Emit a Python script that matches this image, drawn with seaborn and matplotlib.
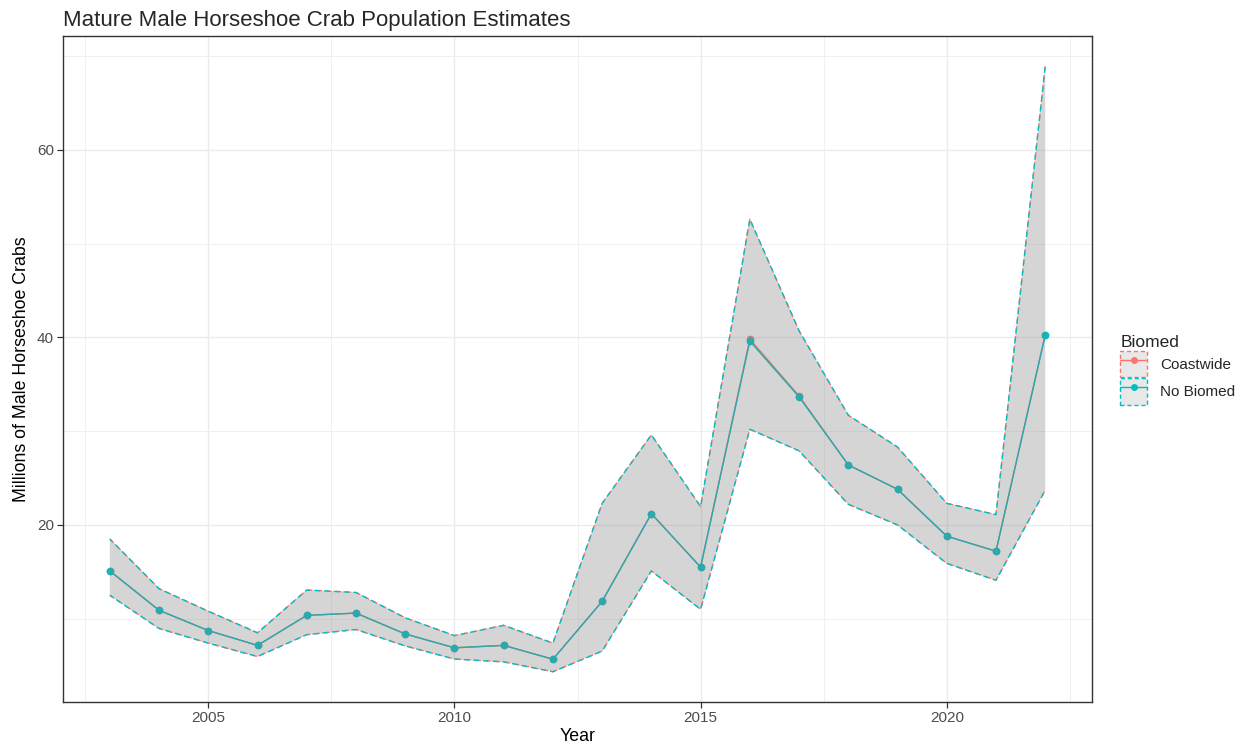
import numpy as np
import pandas as pd
import matplotlib
matplotlib.use("Agg")
import matplotlib.pyplot as plt
from matplotlib.patches import Patch
from matplotlib.lines import Line2D
from matplotlib.ticker import MultipleLocator
import seaborn as sns

years = list(range(2003, 2023))

coastwide_est = [15.1, 10.9, 8.74, 7.16, 10.36, 10.6, 8.38, 6.9, 7.16, 5.68,
                 11.85, 21.2, 15.5, 39.8, 33.75, 26.4, 23.8, 18.8, 17.2, 40.25]
coastwide_lo = [12.5, 8.96, 7.4, 5.97, 8.3, 8.85, 7.1, 5.7, 5.4, 4.35,
                6.55, 15.1, 11.0, 30.2, 27.9, 22.2, 20.0, 15.9, 14.1, 23.7]
coastwide_hi = [18.5, 13.2, 10.8, 8.5, 13.06, 12.8, 10.1, 8.2, 9.3, 7.4,
                22.3, 29.6, 21.96, 52.6, 40.7, 31.7, 28.3, 22.3, 21.1, 68.9]

nobiomed_est = [15.1, 10.9, 8.74, 7.16, 10.36, 10.6, 8.38, 6.9, 7.16, 5.68,
                11.85, 21.2, 15.5, 39.6, 33.65, 26.4, 23.8, 18.8, 17.2, 40.25]
nobiomed_lo = [12.5, 8.96, 7.4, 5.97, 8.3, 8.85, 7.1, 5.7, 5.4, 4.35,
               6.55, 15.1, 11.0, 30.2, 27.9, 22.2, 20.0, 15.9, 14.1, 23.7]
nobiomed_hi = [18.5, 13.2, 10.8, 8.5, 13.06, 12.8, 10.1, 8.2, 9.3, 7.4,
               22.3, 29.6, 21.96, 52.6, 40.7, 31.7, 28.3, 22.3, 21.1, 68.9]

groups = ["Coastwide", "No Biomed"]
colors = {"Coastwide": "#F8766D", "No Biomed": "#00BFC4"}
# dash phase per group so both boundary colours stay visible where they overlap
dash_styles = {"Coastwide": (0, (4, 3)), "No Biomed": (1.5, (4, 3))}

df = pd.concat([
    pd.DataFrame({"Year": years, "Estimate": coastwide_est, "Lower": coastwide_lo,
                  "Upper": coastwide_hi, "Biomed": "Coastwide"}),
    pd.DataFrame({"Year": years, "Estimate": nobiomed_est, "Lower": nobiomed_lo,
                  "Upper": nobiomed_hi, "Biomed": "No Biomed"}),
])

sns.set_theme(style="white")
plt.rcParams["font.family"] = ["Liberation Sans", "DejaVu Sans"]

fig = plt.figure(figsize=(12.46, 7.5), dpi=100)
ax = fig.add_axes([0.0506, 0.064, 0.8258, 0.888])

sns.lineplot(data=df, x="Year", y="Estimate", hue="Biomed", hue_order=groups,
             palette=colors, marker="o", markersize=5.5, markeredgewidth=0,
             linewidth=1.0, legend=False, ax=ax, zorder=2)

ribbon_fill = (0.5, 0.5, 0.5, 0.175)
for g in groups:
    sub = df[df["Biomed"] == g]
    ax.fill_between(sub["Year"], sub["Lower"], sub["Upper"], facecolor=ribbon_fill,
                    edgecolor="none", zorder=3)
    for col in ("Lower", "Upper"):
        ax.plot(sub["Year"], sub[col], color=colors[g], linestyle=dash_styles[g],
                linewidth=1.0, zorder=4)

# axis limits with ggplot-like 5% expansion
x0, x1 = min(years), max(years)
xr = x1 - x0
ax.set_xlim(x0 - 0.05 * xr, x1 + 0.05 * xr)
ymin, ymax = df["Lower"].min(), df["Upper"].max()
yr = ymax - ymin
ax.set_ylim(ymin - 0.05 * yr, ymax + 0.05 * yr)

ax.xaxis.set_major_locator(MultipleLocator(5))
ax.xaxis.set_minor_locator(MultipleLocator(2.5))
ax.yaxis.set_major_locator(MultipleLocator(20))
ax.yaxis.set_minor_locator(MultipleLocator(10))
ax.grid(True, which="major", color="#EBEBEB", linewidth=1.0, zorder=0)
ax.grid(True, which="minor", color="#F0F0F0", linewidth=0.7, zorder=0)
ax.set_axisbelow(True)
for s in ax.spines.values():
    s.set_color("#333333")
    s.set_linewidth(1.0)
ax.tick_params(axis="both", which="major", length=4, width=0.9, color="#333333",
               labelsize=11, labelcolor="#4D4D4D", pad=2.5, left=True, bottom=True)
ax.tick_params(axis="both", which="minor", length=0)

ax.set_xlabel("Year", fontsize=12.8, color="black", labelpad=2)
ax.set_ylabel("Millions of Male Horseshoe Crabs", fontsize=12.8, color="black",
              labelpad=5)
ax.set_title("Mature Male Horseshoe Crab Population Estimates", fontsize=16,
             loc="left", x=0.0, pad=7)

handles = []
for g in groups:
    box = Patch(facecolor=(0.5, 0.5, 0.5, 0.175), edgecolor=colors[g],
                linestyle=(0, (3, 2)), linewidth=1.0)
    ln = Line2D([], [], color=colors[g], marker="o", markersize=5,
                markeredgewidth=0, linewidth=1.0)
    handles.append((box, ln))

leg = fig.legend(handles, groups, title="Biomed", loc="center left",
                 bbox_to_anchor=(0.888, 0.507), frameon=False, fontsize=11,
                 title_fontsize=12.5, handlelength=1.75, handleheight=2.3,
                 handletextpad=0.85, labelspacing=0.05, alignment="left",
                 borderpad=0.4)

fig.savefig("out.png", dpi=100)
